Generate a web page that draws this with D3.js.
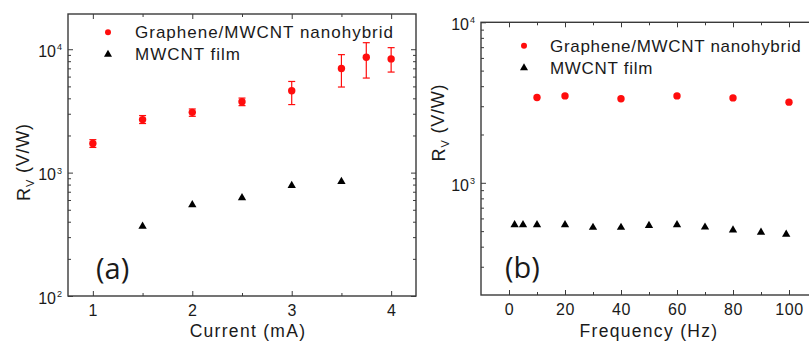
<!DOCTYPE html>
<html><head><meta charset="utf-8">
<script src="https://cdn.jsdelivr.net/npm/d3@7"></script>
<style>
body{margin:0;background:#fff;}
svg{display:block;}
text{font-family:"Liberation Sans",Arial,sans-serif;fill:#1a1a1a;}
</style></head>
<body><svg id="c" width="809" height="342"></svg>
<script>
// ---- Data (a): responsivity vs current ----
const currentHybrid = [1, 1.5, 2, 2.5, 3, 3.5, 3.75, 4];
const rvHybridA     = [1720, 2690, 3080, 3760, 4610, 6980, 8610, 8350];
const rvHybridALow  = [1600, 2500, 2860, 3490, 3560, 4940, 5840, 6530];
const rvHybridAHigh = [1850, 2900, 3280, 4020, 5480, 9040, 11300, 10300];
const currentFilm   = [1.5, 2, 2.5, 3, 3.5];
const rvFilmA       = [367, 548, 624, 785, 846];
const currentTicks  = [1, 2, 3, 4];
const currentMinor  = [1.5, 2.5, 3.5];

// ---- Data (b): responsivity vs frequency ----
const freqHybrid = [10, 20, 40, 60, 80, 100];
const rvHybridB  = [3400, 3480, 3340, 3480, 3380, 3180];
const freqFilm   = [2, 5, 10, 20, 30, 40, 50, 60, 70, 80, 90, 99];
const rvFilmB    = [548, 548, 548, 548, 527, 527, 541, 548, 529, 508, 491, 477];
const freqTicks  = [0, 20, 40, 60, 80, 100];
const freqMinor  = [10, 30, 50, 70, 90];

const seriesNames = ["Graphene/MWCNT nanohybrid", "MWCNT film"];
const panelLabels = ["(a)", "(b)"];
const xTitles = ["Current (mA)", "Frequency (Hz)"];

const svg = d3.select("#c");
const frameColor = "#3a3a3a";
const red = "#ff0d0d";

function logMinor(domain){
  const out=[];
  for(let e=Math.floor(Math.log10(domain[0])); e<=Math.ceil(Math.log10(domain[1])); e++){
    for(let m=2;m<=9;m++){const v=m*Math.pow(10,e); if(v>domain[0]&&v<domain[1]) out.push(v);}
  }
  return out;
}
function logMajor(domain){
  const out=[];
  for(let e=Math.ceil(Math.log10(domain[0])); e<=Math.floor(Math.log10(domain[1])); e++) out.push(Math.pow(10,e));
  return out;
}

function panel(opt){
  const g = svg.append("g");
  const x = d3.scaleLinear().domain(opt.xd).range(opt.xr);
  const y = d3.scaleLog().domain(opt.yd).range(opt.yr);
  const [x0,x1]=opt.xr, [y0,y1]=opt.yr; // y0 bottom, y1 top

  const style = s => { s.select(".domain").remove(); s.selectAll(".tick line").attr("stroke",frameColor).attr("stroke-width",1); };

  // bottom axis
  g.append("g").attr("transform",`translate(0,${y0})`)
    .call(d3.axisBottom(x).tickValues(opt.xTicks).tickSize(-5).tickPadding(9).tickFormat(d3.format("d")))
    .call(style)
    .call(s=>s.selectAll("text").attr("font-size","16px").attr("fill","#1a1a1a").style("letter-spacing","0.6px"));
  g.append("g").attr("transform",`translate(0,${y0})`)
    .call(d3.axisBottom(x).tickValues(opt.xMinor).tickSize(-3).tickFormat(""))
    .call(style);
  // top axis
  g.append("g").attr("transform",`translate(0,${y1})`)
    .call(d3.axisTop(x).tickValues(opt.xTicks).tickSize(-5).tickFormat(""))
    .call(style);
  g.append("g").attr("transform",`translate(0,${y1})`)
    .call(d3.axisTop(x).tickValues(opt.xMinor).tickSize(-3).tickFormat(""))
    .call(style);
  // left axis
  const maj = logMajor(opt.yd), min = logMinor(opt.yd);
  g.append("g").attr("transform",`translate(${x0},0)`)
    .call(d3.axisLeft(y).tickValues(maj).tickSize(-5).tickPadding(6).tickFormat(""))
    .call(style)
    .call(s=>s.selectAll(".tick text").each(function(d){
      const t=d3.select(this).attr("font-size","16px").attr("fill","#1a1a1a").attr("dy","0.45em");
      t.append("tspan").text("10");
      t.append("tspan").attr("dy","-0.75em").attr("font-size","9px").attr("dx","1").text(Math.round(Math.log10(d)));
    }));
  g.append("g").attr("transform",`translate(${x0},0)`)
    .call(d3.axisLeft(y).tickValues(min).tickSize(-3).tickFormat(""))
    .call(style);
  // right axis
  g.append("g").attr("transform",`translate(${x1},0)`)
    .call(d3.axisRight(y).tickValues(maj).tickSize(-5).tickFormat(""))
    .call(style);
  g.append("g").attr("transform",`translate(${x1},0)`)
    .call(d3.axisRight(y).tickValues(min).tickSize(-3).tickFormat(""))
    .call(style);

  // frame
  g.append("rect").attr("x",x0).attr("y",y1).attr("width",x1-x0).attr("height",y0-y1)
    .attr("fill","none").attr("stroke",frameColor).attr("stroke-width",1.4);

  // error bars
  if(opt.errLow){
    const eb = g.append("g").attr("stroke",red).attr("stroke-width",1.2);
    opt.redX.forEach((xv,i)=>{
      const cx=x(xv), yl=y(opt.errLow[i]), yh=y(opt.errHigh[i]);
      eb.append("line").attr("x1",cx).attr("x2",cx).attr("y1",yl).attr("y2",yh);
      eb.append("line").attr("x1",cx-3.5).attr("x2",cx+3.5).attr("y1",yl).attr("y2",yl);
      eb.append("line").attr("x1",cx-3.5).attr("x2",cx+3.5).attr("y1",yh).attr("y2",yh);
    });
  }
  // red circles
  g.append("g").selectAll("circle").data(opt.redX.map((v,i)=>[v,opt.redY[i]])).join("circle")
    .attr("cx",d=>x(d[0])).attr("cy",d=>y(d[1])).attr("r",3.7).attr("fill",red);
  // black triangles
  const tri = d3.symbol().type(d3.symbolTriangle).size(30);
  g.append("g").selectAll("path").data(opt.blkX.map((v,i)=>[v,opt.blkY[i]])).join("path")
    .attr("d",tri).attr("transform",d=>`translate(${x(d[0])},${y(d[1])})`).attr("fill","#000");

  // legend
  const L = opt.legend;
  g.append("circle").attr("cx",L.mx).attr("cy",L.y1).attr("r",3).attr("fill",red);
  g.append("path").attr("d",d3.symbol().type(d3.symbolTriangle).size(28)).attr("transform",`translate(${L.mx},${L.y2})`).attr("fill","#000");
  g.append("text").attr("x",L.tx).attr("y",L.b1).attr("font-size","17px").style("letter-spacing",L.ls).text(seriesNames[0]);
  g.append("text").attr("x",L.tx).attr("y",L.b2).attr("font-size","17px").style("letter-spacing",L.ls).text(seriesNames[1]);

  // panel label
  g.append("text").attr("x",opt.lab[0]).attr("y",opt.lab[1]).attr("font-size","29px")
    .style("font-family","'Open Sans',Lato,sans-serif").attr("fill","#222").text(opt.label);

  // x title
  g.append("text").attr("x",opt.xt[0]).attr("y",opt.xt[1]).attr("text-anchor","middle")
    .attr("font-size","17.5px").style("letter-spacing","1.3px").text(opt.xTitle);
  // y title
  const yt = g.append("text").attr("transform",`translate(${opt.yt[0]},${opt.yt[1]}) rotate(-90)`)
    .attr("text-anchor","middle").attr("font-size","18px").style("letter-spacing","0.8px");
  yt.append("tspan").text("R");
  yt.append("tspan").attr("font-size","11px").attr("dy","0.35em").text("V");
  yt.append("tspan").attr("dy","-0.25em").text(" (V/W)");
}

panel({
  xd:[0.75,4.25], xr:[68,416], yd:[100,19300], yr:[296,14],
  xTicks:currentTicks, xMinor:currentMinor,
  redX:currentHybrid, redY:rvHybridA, errLow:rvHybridALow, errHigh:rvHybridAHigh,
  blkX:currentFilm, blkY:rvFilmA,
  legend:{mx:108, y1:32.3, y2:54.5, tx:135, b1:37.5, b2:59.8, ls:"1px"},
  label:panelLabels[0], lab:[96,279], xTitle:xTitles[0], xt:[248,336.5], yt:[30,162]
});
panel({
  xd:[-10,110], xr:[481,817], yd:[200,10000], yr:[295,22.3],
  xTicks:freqTicks, xMinor:freqMinor,
  redX:freqHybrid, redY:rvHybridB,
  blkX:freqFilm, blkY:rvFilmB,
  legend:{mx:524, y1:45.7, y2:68, tx:550, b1:51.8, b2:74, ls:"0.7px"},
  label:panelLabels[1], lab:[505,278], xTitle:xTitles[1], xt:[649,336.5], yt:[445,122.5]
});
</script></body></html>
